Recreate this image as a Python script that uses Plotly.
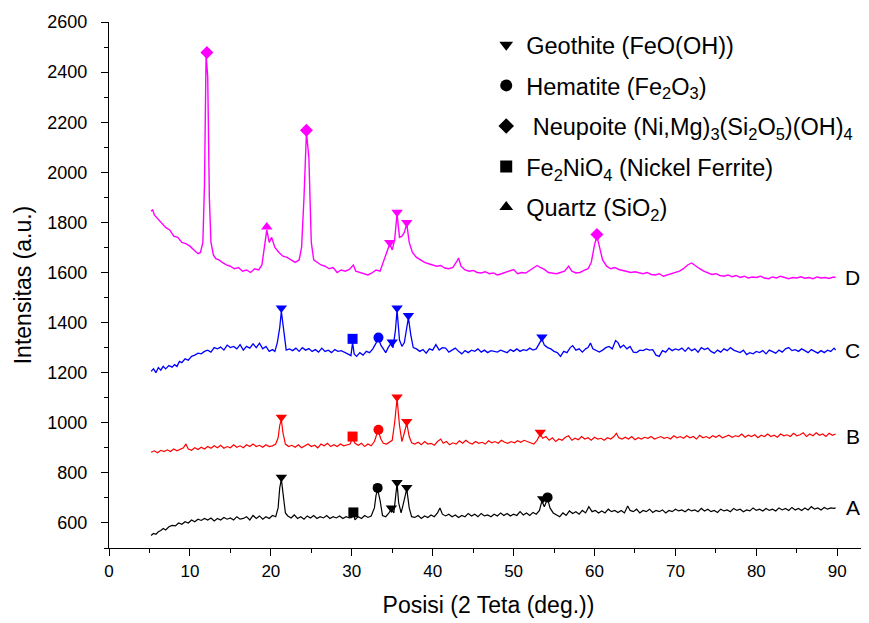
import plotly.graph_objects as go

# ---------------- data ----------------
D_pts = [(5.2,1845),(5.4,1850),(5.6,1830),(6.0,1815),(6.5,1795),(7.0,1780),(7.5,1770),(8.0,1745),(8.5,1740),(9.0,1720),(9.5,1715),(10.0,1705),(10.5,1690),(11.0,1675),(11.3,1680),(11.6,1720),(11.8,1950),(12.0,2470),(12.2,2380),(12.4,1900),(12.6,1720),(12.9,1670),(13.2,1655),(13.6,1650),(14.0,1640),(14.5,1630),(15.0,1625),(15.5,1615),(16.0,1620),(16.5,1605),(17.0,1610),(17.5,1600),(18.0,1615),(18.5,1610),(18.9,1630),(19.2,1700),(19.5,1770),(19.8,1720),(20.1,1740),(20.5,1700),(21.0,1680),(21.5,1665),(22.0,1660),(22.5,1650),(23.0,1640),(23.5,1650),(23.8,1700),(24.1,1900),(24.4,2160),(24.7,2060),(25.0,1720),(25.3,1650),(25.7,1640),(26.2,1630),(26.7,1625),(27.2,1615),(27.7,1620),(28.2,1600),(28.7,1610),(29.2,1605),(29.7,1612),(30.2,1630),(30.5,1605),(31.0,1600),(31.5,1595),(32.0,1590),(32.5,1598),(33.0,1610),(33.5,1605),(34.0,1650),(34.4,1690),(34.7,1715),(35.0,1690),(35.3,1730),(35.6,1835),(35.9,1740),(36.2,1745),(36.5,1760),(36.8,1795),(37.1,1720),(37.5,1680),(38.0,1660),(38.5,1650),(39.0,1640),(39.5,1635),(40.0,1630),(40.5,1625),(41.0,1628),(41.5,1618),(42.0,1615),(42.5,1620),(43.0,1645),(43.2,1658),(43.5,1625),(44.0,1610),(44.5,1605),(45.0,1608),(45.5,1600),(46.0,1598),(46.5,1603),(47.0,1595),(47.5,1598),(48.0,1590),(48.5,1595),(49.0,1600),(49.5,1605),(50.0,1612),(50.5,1595),(51.0,1600),(51.5,1598),(52.0,1610),(52.5,1622),(52.9,1628),(53.3,1620),(53.8,1612),(54.3,1600),(54.8,1598),(55.3,1595),(55.8,1600),(56.3,1605),(56.8,1625),(57.2,1605),(57.7,1598),(58.2,1600),(58.7,1608),(59.2,1615),(59.6,1640),(60.0,1710),(60.3,1745),(60.6,1700),(61.0,1650),(61.5,1625),(62.0,1615),(62.5,1620),(63.0,1612),(63.5,1608),(64.0,1605),(64.5,1600),(65.0,1603),(65.5,1598),(66.0,1595),(66.5,1600),(67.0,1592),(67.5,1590),(68.0,1595),(68.5,1585),(69.0,1590),(69.5,1595),(70.0,1600),(70.5,1605),(71.0,1615),(71.5,1630),(72.0,1638),(72.5,1625),(73.0,1615),(73.5,1605),(74.0,1600),(74.5,1592),(75.0,1595),(75.5,1588),(76.0,1585),(76.5,1590),(77.0,1583),(77.5,1588),(78.0,1580),(78.5,1585),(79.0,1578),(79.5,1582),(80.0,1580),(80.5,1585),(81.0,1578),(81.5,1575),(82.0,1582),(82.5,1578),(83.0,1585),(83.5,1580),(84.0,1575),(84.5,1580),(85.0,1578),(85.5,1583),(86.0,1577),(86.5,1580),(87.0,1575),(87.5,1582),(88.0,1578),(88.5,1580),(89.0,1576),(89.5,1582),(89.8,1580)]

C_pts = [(5.2,1205),(5.5,1215),(5.8,1200),(6.1,1220),(6.4,1210),(6.7,1225),(7.0,1215),(7.4,1228),(7.8,1222),(8.1,1232),(8.4,1225),(8.7,1245),(9.0,1240),(9.4,1255),(9.8,1250),(10.2,1265),(10.6,1270),(11.0,1278),(11.4,1275),(11.8,1285),(12.2,1290),(12.6,1282),(13.0,1300),(13.4,1295),(13.8,1302),(14.2,1290),(14.6,1310),(15.0,1300),(15.4,1305),(15.8,1295),(16.2,1312),(16.6,1290),(17.0,1305),(17.4,1298),(17.8,1315),(18.2,1300),(18.6,1318),(19.0,1295),(19.4,1305),(19.8,1285),(20.2,1292),(20.5,1285),(20.8,1320),(21.1,1380),(21.3,1445),(21.6,1360),(21.9,1290),(22.3,1295),(22.7,1288),(23.1,1298),(23.5,1285),(23.9,1300),(24.3,1290),(24.7,1296),(25.1,1285),(25.5,1292),(25.9,1282),(26.3,1298),(26.7,1285),(27.1,1290),(27.5,1280),(27.9,1292),(28.3,1285),(28.7,1288),(29.1,1280),(29.5,1275),(29.9,1268),(30.1,1320),(30.3,1275),(30.6,1265),(31.0,1280),(31.4,1270),(31.8,1285),(32.2,1280),(32.6,1295),(33.0,1315),(33.3,1335),(33.6,1310),(33.9,1295),(34.2,1280),(34.5,1300),(34.8,1315),(35.1,1300),(35.4,1370),(35.6,1450),(35.9,1330),(36.2,1305),(36.5,1320),(36.8,1380),(37.0,1420),(37.3,1350),(37.6,1300),(38.0,1295),(38.4,1285),(38.8,1292),(39.2,1278),(39.6,1295),(40.0,1290),(40.4,1312),(40.8,1290),(41.2,1300),(41.6,1298),(42.0,1282),(42.4,1290),(42.8,1298),(43.2,1285),(43.6,1275),(44.0,1288),(44.4,1280),(44.8,1290),(45.2,1285),(45.6,1295),(46.0,1282),(46.4,1290),(46.8,1280),(47.2,1288),(47.6,1285),(48.0,1282),(48.4,1290),(48.8,1285),(49.2,1280),(49.6,1292),(50.0,1285),(50.4,1295),(50.8,1285),(51.2,1292),(51.6,1288),(52.0,1298),(52.4,1290),(52.8,1295),(53.2,1315),(53.5,1335),(53.8,1310),(54.2,1300),(54.6,1295),(55.0,1285),(55.4,1280),(55.8,1265),(56.2,1285),(56.6,1280),(57.0,1300),(57.3,1308),(57.7,1290),(58.1,1295),(58.5,1282),(58.9,1295),(59.2,1300),(59.5,1318),(59.8,1295),(60.2,1288),(60.6,1282),(61.0,1290),(61.4,1300),(61.8,1305),(62.2,1295),(62.6,1328),(62.9,1320),(63.2,1300),(63.6,1310),(64.0,1295),(64.4,1305),(64.8,1282),(65.2,1280),(65.6,1290),(66.0,1288),(66.4,1295),(66.8,1290),(67.2,1292),(67.6,1270),(68.0,1265),(68.4,1288),(68.8,1282),(69.2,1298),(69.6,1288),(70.0,1295),(70.4,1290),(70.8,1298),(71.2,1285),(71.6,1300),(72.0,1288),(72.4,1295),(72.8,1282),(73.2,1300),(73.6,1292),(74.0,1298),(74.4,1285),(74.8,1278),(75.2,1290),(75.6,1282),(76.0,1295),(76.4,1288),(76.8,1300),(77.2,1290),(77.6,1285),(78.0,1280),(78.4,1290),(78.8,1272),(79.2,1280),(79.6,1275),(80.0,1285),(80.4,1280),(80.8,1288),(81.2,1275),(81.6,1290),(82.0,1285),(82.4,1278),(82.8,1290),(83.2,1282),(83.6,1295),(84.0,1300),(84.4,1288),(84.8,1292),(85.2,1285),(85.6,1295),(86.0,1288),(86.4,1280),(86.8,1292),(87.2,1285),(87.6,1278),(88.0,1288),(88.4,1280),(88.8,1290),(89.2,1285),(89.6,1298),(89.8,1290)]

B_pts = [(5.2,882),(5.6,888),(6.0,880),(6.4,890),(6.8,885),(7.2,892),(7.6,885),(8.0,895),(8.4,888),(8.8,893),(9.2,900),(9.5,915),(9.8,895),(10.2,890),(10.6,900),(11.0,893),(11.4,902),(11.8,895),(12.2,905),(12.6,898),(13.0,908),(13.4,900),(13.8,910),(14.2,898),(14.6,905),(15.0,900),(15.4,912),(15.8,902),(16.2,908),(16.6,900),(17.0,912),(17.4,905),(17.8,915),(18.2,905),(18.6,910),(19.0,902),(19.4,912),(19.8,905),(20.2,908),(20.6,915),(20.9,940),(21.1,990),(21.3,1012),(21.5,960),(21.8,915),(22.2,905),(22.6,910),(23.0,902),(23.4,912),(23.8,900),(24.2,908),(24.6,915),(25.0,905),(25.4,910),(25.8,900),(26.2,915),(26.6,908),(27.0,918),(27.4,905),(27.8,912),(28.2,905),(28.6,915),(29.0,908),(29.4,910),(29.8,915),(30.1,940),(30.4,918),(30.8,910),(31.2,918),(31.6,905),(32.0,915),(32.4,908),(32.8,925),(33.1,955),(33.3,965),(33.6,935),(33.9,918),(34.3,915),(34.7,925),(35.0,930),(35.3,1000),(35.6,1097),(35.9,990),(36.2,925),(36.5,960),(36.8,998),(37.1,945),(37.4,920),(37.8,915),(38.2,922),(38.6,912),(39.0,925),(39.4,915),(39.8,918),(40.2,910),(40.6,925),(41.0,935),(41.3,918),(41.7,925),(42.1,912),(42.5,920),(42.9,915),(43.3,928),(43.7,918),(44.1,930),(44.5,920),(44.9,915),(45.3,925),(45.7,918),(46.1,922),(46.5,915),(46.9,928),(47.3,920),(47.7,925),(48.1,918),(48.5,930),(48.9,922),(49.3,918),(49.7,925),(50.1,920),(50.5,928),(50.9,922),(51.3,930),(51.7,925),(52.1,920),(52.5,915),(52.9,930),(53.3,955),(53.6,938),(54.0,945),(54.4,930),(54.8,940),(55.2,925),(55.6,935),(56.0,930),(56.4,942),(56.8,948),(57.2,930),(57.6,938),(58.0,932),(58.4,945),(58.8,935),(59.2,940),(59.6,930),(60.0,942),(60.4,935),(60.8,938),(61.2,930),(61.6,940),(62.0,935),(62.4,945),(62.7,958),(63.0,940),(63.4,935),(63.8,942),(64.2,935),(64.6,945),(65.0,932),(65.4,940),(65.8,935),(66.2,942),(66.6,938),(67.0,945),(67.4,935),(67.8,940),(68.2,945),(68.6,938),(69.0,942),(69.4,935),(69.8,948),(70.2,940),(70.6,945),(71.0,938),(71.4,948),(71.8,940),(72.2,945),(72.6,935),(73.0,950),(73.4,940),(73.8,945),(74.2,938),(74.6,948),(75.0,942),(75.4,950),(75.8,940),(76.2,945),(76.6,950),(77.0,942),(77.4,948),(77.8,945),(78.2,955),(78.6,942),(79.0,950),(79.4,945),(79.8,952),(80.2,940),(80.6,950),(81.0,945),(81.4,955),(81.8,945),(82.2,950),(82.6,942),(83.0,955),(83.4,948),(83.8,952),(84.2,945),(84.6,958),(85.0,948),(85.4,952),(85.8,960),(86.2,945),(86.6,955),(87.0,948),(87.4,960),(87.8,950),(88.2,955),(88.6,945),(89.0,958),(89.4,950),(89.8,955)]

A_pts = [(5.2,550),(5.5,558),(5.8,555),(6.1,565),(6.4,570),(6.7,578),(7.0,572),(7.4,585),(7.8,590),(8.2,588),(8.6,600),(9.0,595),(9.4,605),(9.8,600),(10.2,612),(10.6,605),(11.0,615),(11.4,610),(11.8,618),(12.2,612),(12.6,620),(13.0,608),(13.4,618),(13.8,612),(14.2,622),(14.6,615),(15.0,620),(15.4,612),(15.8,625),(16.2,615),(16.6,618),(17.0,625),(17.4,612),(17.8,630),(18.2,618),(18.6,628),(19.0,615),(19.4,625),(19.8,618),(20.2,630),(20.6,625),(20.9,660),(21.1,740),(21.3,775),(21.5,720),(21.8,640),(22.1,628),(22.5,620),(22.9,632),(23.3,618),(23.7,625),(24.1,615),(24.5,628),(24.9,620),(25.3,630),(25.7,618),(26.1,625),(26.5,620),(26.9,630),(27.3,618),(27.7,625),(28.1,620),(28.5,628),(28.9,618),(29.3,625),(29.7,620),(30.0,622),(30.2,640),(30.4,612),(30.8,625),(31.2,618),(31.6,630),(32.0,622),(32.4,628),(32.8,660),(33.0,710),(33.2,733),(33.5,690),(33.8,630),(34.2,625),(34.6,640),(34.9,655),(35.2,640),(35.4,700),(35.6,758),(35.8,680),(36.1,640),(36.4,680),(36.8,736),(37.1,660),(37.4,625),(37.8,622),(38.2,630),(38.6,618),(39.0,628),(39.4,622),(39.8,632),(40.2,625),(40.6,640),(40.9,660),(41.2,635),(41.6,628),(42.0,635),(42.4,625),(42.8,632),(43.2,622),(43.6,630),(44.0,625),(44.4,638),(44.8,628),(45.2,635),(45.6,625),(46.0,638),(46.4,628),(46.8,632),(47.2,625),(47.6,635),(48.0,628),(48.4,640),(48.8,630),(49.2,638),(49.6,628),(50.0,635),(50.4,630),(50.8,645),(51.2,632),(51.6,640),(52.0,630),(52.4,642),(52.8,635),(53.2,650),(53.5,688),(53.8,665),(54.2,697),(54.5,660),(54.9,640),(55.3,632),(55.7,625),(56.1,640),(56.5,630),(56.9,648),(57.3,638),(57.7,645),(58.1,635),(58.5,650),(58.9,640),(59.3,665),(59.7,645),(60.1,650),(60.5,640),(60.9,648),(61.3,640),(61.7,655),(62.1,645),(62.5,650),(62.9,642),(63.3,650),(63.7,640),(64.1,668),(64.4,650),(64.8,645),(65.2,655),(65.6,640),(66.0,650),(66.4,645),(66.8,655),(67.2,642),(67.6,650),(68.0,645),(68.4,652),(68.8,640),(69.2,650),(69.6,645),(70.0,655),(70.4,648),(70.8,652),(71.2,645),(71.6,655),(72.0,648),(72.4,652),(72.8,645),(73.2,658),(73.6,648),(74.0,655),(74.4,645),(74.8,650),(75.2,642),(75.6,655),(76.0,648),(76.4,652),(76.8,645),(77.2,658),(77.6,650),(78.0,655),(78.4,645),(78.8,652),(79.2,648),(79.6,660),(80.0,650),(80.4,655),(80.8,648),(81.2,658),(81.6,650),(82.0,655),(82.4,648),(82.8,660),(83.2,652),(83.6,658),(84.0,650),(84.4,662),(84.8,652),(85.2,658),(85.6,650),(86.0,660),(86.4,652),(86.8,665),(87.2,655),(87.6,660),(88.0,652),(88.4,662),(88.8,655),(89.2,660),(89.6,658),(89.8,660)]

# phase markers per pattern: phase -> list of (2theta, intensity)
D_marks = {"diamond": [(12.1, 2478), (24.4, 2168), (60.3, 1752)],
           "triangle-up": [(19.5, 1782)],
           "triangle-down": [(34.7, 1720), (35.6, 1840), (36.8, 1800)]}
C_marks = {"triangle-down": [(21.3, 1458), (35.0, 1322), (35.6, 1458), (37.0, 1428), (53.5, 1342)],
           "square": [(30.1, 1335)],
           "circle": [(33.3, 1340)]}
B_marks = {"triangle-down": [(21.3, 1022), (35.6, 1103), (36.8, 1005), (53.3, 962)],
           "square": [(30.1, 945)],
           "circle": [(33.3, 972)]}
A_marks = {"triangle-down": [(21.3, 782), (34.9, 660), (35.6, 762), (36.8, 742), (53.6, 697)],
           "square": [(30.2, 642)],
           "circle": [(33.2, 740), (54.2, 702)]}

curve_labels = ["A", "B", "C", "D"]
curve_label_y = [660, 945, 1290, 1578]

legend_names = ["Geothite (FeO(OH))",
                "Hematite (Fe<sub>2</sub>O<sub>3</sub>)",
                " Neupoite (Ni,Mg)<sub>3</sub>(Si<sub>2</sub>O<sub>5</sub>)(OH)<sub>4</sub>",
                "Fe<sub>2</sub>NiO<sub>4</sub> (Nickel Ferrite)",
                "Quartz (SiO<sub>2</sub>)"]
legend_symbols = ["triangle-down", "circle", "diamond", "square", "triangle-up"]

x_ticks = list(range(0, 100, 10))
y_ticks = list(range(600, 2800, 200))

FONT = "Liberation Sans, Arial, sans-serif"

fig = go.Figure()

series = [(A_pts, A_marks, "#000000", 1.2), (B_pts, B_marks, "#FF0000", 1.2),
          (C_pts, C_marks, "#0000FF", 1.3), (D_pts, D_marks, "#FF00FF", 1.4)]
for pts, marks, col, lw in series:
    fig.add_trace(go.Scatter(x=[p[0] for p in pts], y=[p[1] for p in pts],
                             mode="lines", line=dict(color=col, width=lw),
                             showlegend=False, hoverinfo="skip"))
    for sym, mp in marks.items():
        fig.add_trace(go.Scatter(x=[p[0] for p in mp], y=[p[1] for p in mp],
                                 mode="markers",
                                 marker=dict(symbol=sym, color=col, size=10,
                                             line=dict(width=0)),
                                 showlegend=False, hoverinfo="skip"))

for i, (nm, sym) in enumerate(zip(legend_names, legend_symbols)):
    fig.add_trace(go.Scatter(x=[None], y=[None], mode="markers", name=nm,
                             legendgroup=str(i),
                             marker=dict(symbol=sym, color="black", size=11)))

for lab, yv in zip(curve_labels, curve_label_y):
    fig.add_annotation(x=91.9, y=yv, text=lab, showarrow=False,
                       font=dict(family=FONT, size=21, color="black"),
                       xanchor="center", yanchor="middle")

# page body adds an 8px offset; compensate so the plot lands where the reference has it
fig.update_layout(
    width=861, height=615,
    margin=dict(l=101, r=1, t=14, b=75, autoexpand=False),
    paper_bgcolor="white", plot_bgcolor="white",
    font=dict(family=FONT, color="black"),
    legend=dict(x=0.497, y=0.998, xanchor="left", yanchor="top",
                font=dict(family=FONT, size=23.5, color="black"),
                bgcolor="rgba(0,0,0,0)", tracegroupgap=7,
                itemsizing="constant"),
    xaxis=dict(range=[0, 93.8], tickvals=x_ticks, ticks="outside", ticklen=7,
               tickwidth=1.2, tickcolor="black", showline=True, linecolor="black",
               linewidth=1.2, showgrid=False, zeroline=False,
               tickfont=dict(family=FONT, size=17),
               minor=dict(dtick=5, tick0=0, ticks="outside", ticklen=4, tickcolor="black"),
               title=dict(text="Posisi (2 Teta (deg.))", standoff=17,
                          font=dict(family=FONT, size=23))),
    yaxis=dict(range=[500, 2600], tickvals=y_ticks, ticks="outside", ticklen=7,
               tickwidth=1.2, tickcolor="black", showline=True, linecolor="black",
               linewidth=1.2, showgrid=False, zeroline=False,
               tickfont=dict(family=FONT, size=18), ticklabelstandoff=10,
               minor=dict(dtick=100, tick0=0, ticks="outside", ticklen=4, tickcolor="black"),
               title=dict(text="Intensitas (a.u.)", standoff=9,
                          font=dict(family=FONT, size=23))),
)

fig.write_html("out.html")
